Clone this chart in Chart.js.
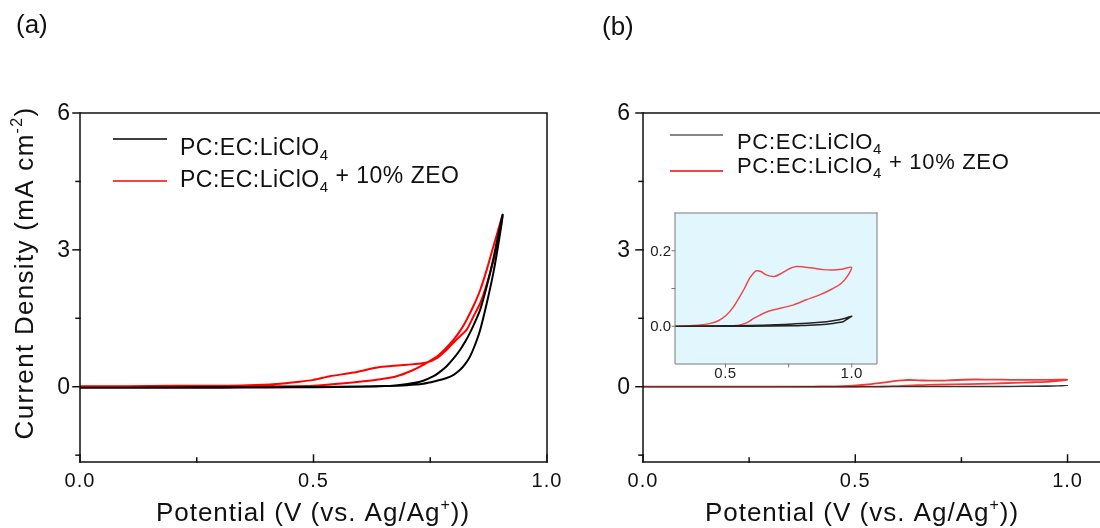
<!DOCTYPE html>
<html><head><meta charset="utf-8">
<script src="https://cdn.jsdelivr.net/npm/chart.js@4.4.0/dist/chart.umd.min.js"></script>
<style>
html,body{margin:0;padding:0;background:#fff;overflow:hidden;width:1100px;height:528px;position:relative;}
canvas{position:absolute;}
#ca{left:0;top:0;} #cb{left:580px;top:0;} #ci{left:630px;top:200px;z-index:2;}
</style></head><body>
<canvas id="ca" width="580" height="528"></canvas>
<canvas id="cb" width="540" height="528"></canvas>
<canvas id="ci" width="260" height="190"></canvas>
<script>
// ---------- DATA ----------
// Panel (a): full CV loops (forward then reverse)
const aBlackV = [0,0.1,0.2,0.3,0.4,0.5,0.6,0.65,0.7,0.735,0.76,0.785,0.8,0.814,0.825,0.835,0.846,0.857,0.871,0.885,0.897,0.905,
                 0.897,0.885,0.871,0.857,0.846,0.835,0.825,0.814,0.8,0.785,0.77,0.757,0.735,0.714,0.68,0.642,0.6,0.5,0.4,0.3,0.2,0.1,0];
const aBlackI = [-0.02,-0.02,-0.015,-0.01,-0.01,-0.005,0.005,0.015,0.035,0.066,0.12,0.19,0.26,0.37,0.5,0.66,0.92,1.25,1.83,2.49,3.2,3.77,
                 3.4,2.8,2.2,1.69,1.42,1.18,0.99,0.81,0.62,0.45,0.32,0.23,0.13,0.08,0.035,0.01,0.0,-0.01,-0.015,-0.02,-0.02,-0.02,-0.02];
const aRedV = [0,0.1,0.2,0.3,0.36,0.42,0.47,0.5,0.535,0.585,0.642,0.7,0.742,0.765,0.785,0.805,0.828,0.843,0.857,0.868,0.878,0.89,0.9,0.905,
               0.895,0.885,0.872,0.857,0.843,0.828,0.815,0.8,0.782,0.764,0.735,0.71,0.678,0.64,0.607,0.56,0.5,0.45,0.4,0.3,0.2,0.1,0];
const aRedI = [0.01,0.01,0.02,0.02,0.03,0.06,0.11,0.15,0.23,0.31,0.43,0.48,0.53,0.63,0.81,1.02,1.25,1.55,1.83,2.15,2.49,2.95,3.44,3.77,
               3.42,3.07,2.6,2.12,1.78,1.47,1.24,1.03,0.83,0.66,0.48,0.35,0.23,0.16,0.12,0.07,0.02,0.01,0.01,0.01,0.01,0.01,0.01];
// Panel (b) (also shown magnified in the inset)
const bBlackV = [0,0.3,0.5,0.6,0.7,0.767,0.85,0.9,0.95,0.975,1.0,
                 0.98,0.966,0.93,0.9,0.8,0.767,0.6,0.3,0];
const bBlackI = [0,0,0.001,0.002,0.004,0.006,0.009,0.012,0.017,0.021,0.027,
                 0.018,0.012,0.008,0.005,0.002,0.001,0,0,0];
const bRedV = [0,0.1,0.2,0.3,0.35,0.4,0.437,0.47,0.503,0.53,0.556,0.575,0.595,0.61,0.622,0.64,0.661,0.694,0.726,0.755,0.78,0.81,0.846,0.885,0.925,0.96,0.999,
               0.985,0.959,0.92,0.873,0.82,0.767,0.688,0.66,0.635,0.61,0.589,0.565,0.542,0.5,0.4,0.3,0];
const bRedI = [0,0,0,0,0.001,0.003,0.007,0.014,0.029,0.05,0.078,0.1,0.127,0.14,0.147,0.145,0.136,0.132,0.142,0.153,0.158,0.157,0.154,0.15,0.149,0.151,0.156,
               0.135,0.114,0.098,0.083,0.07,0.056,0.043,0.037,0.029,0.02,0.011,0.005,0.002,0,0,0,0];

// Tick values / labels
const mainYTicks = [-1.5,0,1.5,3,4.5,6];
const mainYLabels = ['','0','','3','','6'];
const mainXTicks = [0,0.25,0.5,0.75,1.0];
const mainXLabels = ['0.0','','0.5','','1.0'];
const insetYTicks = [0,0.1,0.2];
const insetYLabels = ['0.0','','0.2'];
const insetXTicks = [0.5,0.75,1.0];
const insetXLabels = ['0.5','','1.0'];

const seriesNames = ['PC:EC:LiClO\u2084','PC:EC:LiClO\u2084 + 10% ZEO'];

// ---------- HELPERS ----------
const FF = '"Liberation Sans", Arial, sans-serif';
const pts = (xs, ys) => xs.map((x,i)=>({x:x, y:ys[i]}));
function rich(ctx, parts, x, y, align, ls){
  ctx.save();
  ctx.letterSpacing = (ls||0)+'px';
  let w = 0;
  for(const p of parts){ ctx.font = p[1]+'px '+FF; w += ctx.measureText(p[0]).width; }
  let cx = align==='center' ? x-w/2 : (align==='right' ? x-w : x);
  ctx.textAlign='left'; ctx.textBaseline='alphabetic';
  for(const p of parts){ ctx.font = p[1]+'px '+FF; ctx.fillText(p[0], cx, y+(p[2]||0)); cx += ctx.measureText(p[0]).width; }
  ctx.restore();
}

const decor = {
  id:'decor',
  beforeDraw(chart, args, o){
    if(o.bg){ const a=chart.chartArea, c=chart.ctx; c.save(); c.fillStyle=o.bg; c.fillRect(a.left,a.top,a.right-a.left,a.bottom-a.top); c.restore(); }
  },
  afterDraw(chart, args, o){
    const c = chart.ctx, a = chart.chartArea, xs = chart.scales.x, ys = chart.scales.y;
    c.save();
    c.strokeStyle = o.axisColor; c.lineWidth = o.axisWidth; c.lineCap='square';
    c.beginPath();
    c.moveTo(a.left, a.top); c.lineTo(a.left, a.bottom); c.lineTo(a.right, a.bottom);
    if(o.right){ c.lineTo(a.right, a.top); }
    if(o.top){ c.moveTo(a.left, a.top); c.lineTo(a.right, a.top); }
    c.stroke();
    // y ticks (outward)
    c.fillStyle = o.textColor;
    o.yTicks.forEach((v,i)=>{
      const py = ys.getPixelForValue(v);
      const len = o.yLabels[i] ? o.majorLen : o.minorLen;
      c.beginPath(); c.moveTo(a.left, py); c.lineTo(a.left-len, py); c.stroke();
      if(o.yLabels[i]){
        c.save(); c.font = o.yFont+'px '+FF; c.textAlign='right'; c.textBaseline='middle';
        c.letterSpacing = (o.yLS||0)+'px';
        c.fillText(o.yLabels[i], a.left-o.yGap, py+1); c.restore();
      }
    });
    o.xTicks.forEach((v,i)=>{
      const px = xs.getPixelForValue(v);
      const len = o.xLabels[i] ? o.majorLen : o.minorLen;
      const dir = o.xInward ? -1 : 1;
      c.beginPath(); c.moveTo(px, a.bottom); c.lineTo(px, a.bottom+dir*len); c.stroke();
      if(o.xLabels[i]){
        rich(c, [[o.xLabels[i], o.xFont, 0]], px, a.bottom+o.xBase, 'center', o.xLS||0);
      }
    });
    c.restore();
    c.save(); c.fillStyle = o.textColor;
    if(o.xTitle){ rich(c, o.xTitle.parts, o.xTitle.x, o.xTitle.y, 'center', o.xTitle.ls); }
    if(o.yTitle){
      c.translate(o.yTitle.x, o.yTitle.y); c.rotate(-Math.PI/2);
      rich(c, o.yTitle.parts, 0, 0, 'center', o.yTitle.ls);
      c.setTransform(1,0,0,1,0,0);
    }
    if(o.panel){ rich(c, [[o.panel.t, o.panel.size, 0]], o.panel.x, o.panel.y, 'left', 0); }
    if(o.legend){
      o.legend.items.forEach(it=>{
        c.save(); c.strokeStyle = it.color; c.lineWidth = it.width;
        c.beginPath(); c.moveTo(o.legend.x1, it.ly); c.lineTo(o.legend.x2, it.ly); c.stroke(); c.restore();
        rich(c, it.parts, o.legend.tx, it.ty, 'left', o.legend.ls);
      });
    }
    c.restore();
  }
};

function baseScales(xmin,xmax,ymin,ymax,yw,xh){
  return {
    x:{type:'linear', min:xmin, max:xmax, ticks:{display:false}, grid:{display:false, drawTicks:false}, border:{display:false},
       afterFit(s){ s.height = xh; }},
    y:{type:'linear', min:ymin, max:ymax, ticks:{display:false}, grid:{display:false, drawTicks:false}, border:{display:false},
       afterFit(s){ s.width = yw; }}
  };
}

const legendParts = (size, sub) => [
  [[ 'PC:EC:LiClO', size, 0 ], [ '4', sub, 5 ]],
  [[ 'PC:EC:LiClO', size, 0 ], [ '4', sub, 5 ], [ ' + 10% ZEO', size, -4 ]]
];

// ---------- PANEL (a) ----------
const la = legendParts(23, 15);
new Chart(document.getElementById('ca'), {
  type:'scatter',
  data:{ datasets:[
    {label:seriesNames[0], data:pts(aBlackV,aBlackI), showLine:true, borderColor:'#000', borderWidth:2, pointRadius:0, tension:0.2, fill:false},
    {label:seriesNames[1], data:pts(aRedV,aRedI), showLine:true, borderColor:'#ff0000', borderWidth:2, pointRadius:0, tension:0.2, fill:false}
  ]},
  options:{
    responsive:false, animation:false, events:[],
    layout:{padding:{left:0, top:113, right:33, bottom:0}},
    scales: baseScales(0, 1.0, -1.65, 6, 80, 66),
    plugins:{ legend:{display:false}, tooltip:{enabled:false},
      decor:{ axisColor:'#111', axisWidth:1.5, textColor:'#111', top:true, right:true,
        majorLen:7, minorLen:4, xInward:true,
        yTicks:mainYTicks, yLabels:mainYLabels, yFont:23, yGap:10,
        xTicks:mainXTicks, xLabels:mainXLabels, xFont:20, xLS:1, xBase:25,
        xTitle:{parts:[['Potential (V (vs. Ag/Ag',26,0],['+',16,-11],['))',26,0]], x:313, y:521, ls:1},
        yTitle:{parts:[['Current Density (mA cm',26,0],['-2',16,-11],[')',26,0]], x:33, y:273, ls:1.3},
        panel:{t:'(a)', size:26, x:16, y:33},
        legend:{x1:113, x2:167, tx:180, ls:0.5, items:[
          {color:'#000', width:1.5, ly:139, ty:155, parts:la[0]},
          {color:'#ff0000', width:1.5, ly:181, ty:187, parts:la[1]}
        ]}
      }
    }
  },
  plugins:[decor]
});

// ---------- PANEL (b) ----------
const lb = legendParts(22, 15);
new Chart(document.getElementById('cb'), {
  type:'scatter',
  data:{ datasets:[
    {label:seriesNames[0], data:pts(bBlackV,bBlackI), showLine:true, borderColor:'#333', borderWidth:1.2, pointRadius:0, tension:0.3, fill:false},
    {label:seriesNames[1], data:pts(bRedV,bRedI), showLine:true, borderColor:'#ec3b3b', borderWidth:1.8, pointRadius:0, tension:0.3, fill:false}
  ]},
  options:{
    responsive:false, animation:false, events:[],
    layout:{padding:{left:0, top:113, right:10, bottom:0}},
    scales: baseScales(0, 1.1, -1.65, 6, 63, 66),
    plugins:{ legend:{display:false}, tooltip:{enabled:false},
      decor:{ axisColor:'#111', axisWidth:1.5, textColor:'#111', top:true, right:true,
        majorLen:7, minorLen:4, xInward:true,
        yTicks:mainYTicks, yLabels:mainYLabels, yFont:23, yGap:13,
        xTicks:mainXTicks, xLabels:mainXLabels, xFont:20, xLS:1, xBase:25,
        xTitle:{parts:[['Potential (V (vs. Ag/Ag',26,0],['+',16,-11],['))',26,0]], x:282, y:521, ls:1},
        panel:{t:'(b)', size:26, x:22, y:35},
        legend:{x1:90, x2:143, tx:157, ls:0.7, items:[
          {color:'#111', width:1, ly:135, ty:149, parts:lb[0]},
          {color:'#ec4646', width:2, ly:171, ty:173, parts:lb[1]}
        ]}
      }
    }
  },
  plugins:[decor]
});

// ---------- INSET ----------
new Chart(document.getElementById('ci'), {
  type:'scatter',
  data:{ datasets:[
    {label:seriesNames[0], data:pts(bBlackV,bBlackI), showLine:true, borderColor:'#222', borderWidth:1.5, pointRadius:0, tension:0.3, fill:false},
    {label:seriesNames[1], data:pts(bRedV,bRedI), showLine:true, borderColor:'#ef4848', borderWidth:1.5, pointRadius:0, tension:0.3, fill:false}
  ]},
  options:{
    responsive:false, animation:false, events:[],
    layout:{padding:{left:0, top:13, right:13, bottom:0}},
    scales: baseScales(0.3, 1.1, -0.1, 0.3, 45, 26),
    plugins:{ legend:{display:false}, tooltip:{enabled:false},
      decor:{ bg:'#e1f7fd', axisColor:'#7a7a7a', axisWidth:1, textColor:'#222', top:true, right:true,
        majorLen:3, minorLen:3, xInward:false,
        yTicks:insetYTicks, yLabels:insetYLabels, yFont:15, yGap:4,
        xTicks:insetXTicks, xLabels:insetXLabels, xFont:15, xLS:0.5, xBase:14
      }
    }
  },
  plugins:[decor]
});
</script>
</body></html>
